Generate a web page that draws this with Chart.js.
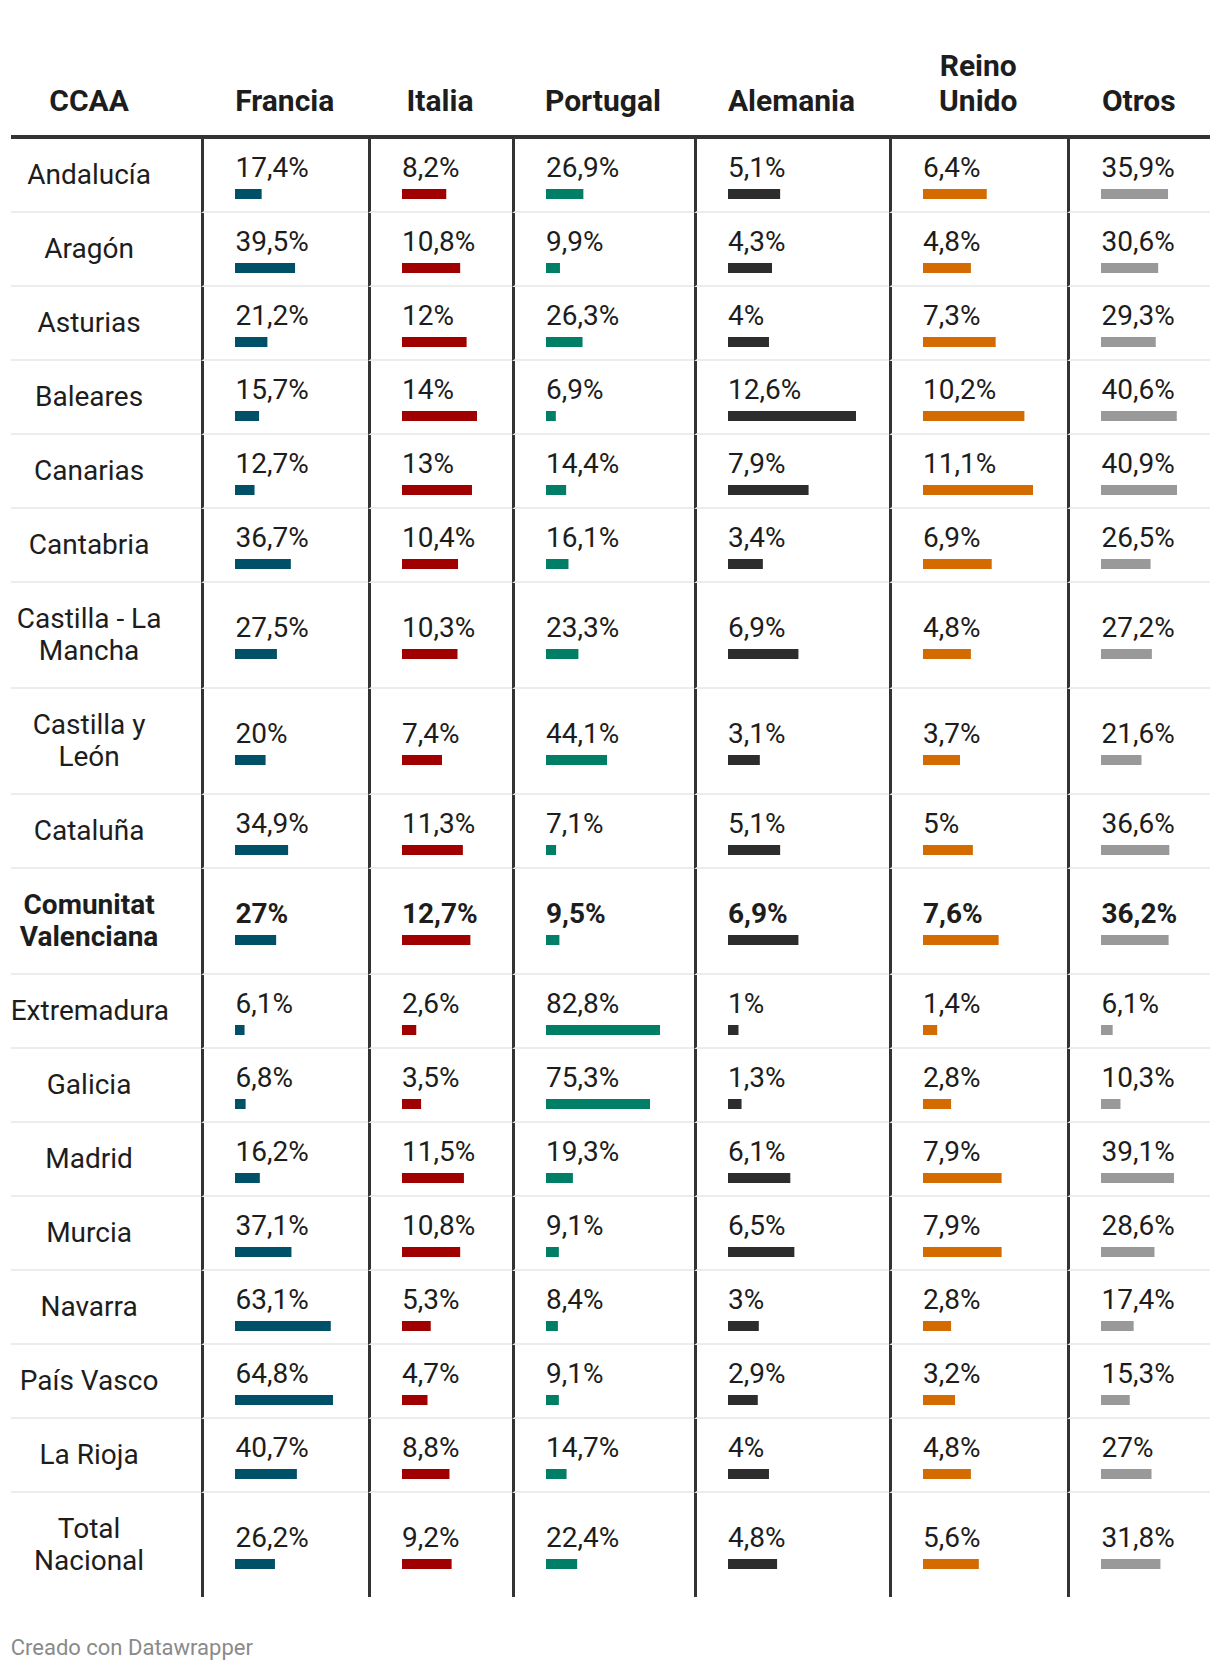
<!DOCTYPE html>
<html lang="es">
<head>
<meta charset="utf-8">
<title>Visitantes extranjeros por CCAA</title>
<script src="https://cdn.jsdelivr.net/npm/chart.js@4"></script>
<style>
  body { margin: 0; background: #fff; font-family: Roboto, 'Noto Sans', sans-serif; color: #1d1d1d; }
  #envoltorio { position: absolute; left: 10.7px; top: 48px; width: 1199.3px; }
  table { table-layout: fixed; border-collapse: separate; border-spacing: 0; width: 1199.3px; }
  th { font-weight: 700; font-size: 30px; line-height: 35px; text-align: center; vertical-align: bottom;
       padding: 0 0 17px 0; border-bottom: 4px solid #333; white-space: pre-line; }
  th:first-child { padding-right: 34px; }
  td { border-bottom: 2px solid #ececec; padding: 0; }
  tbody tr:last-child td { border-bottom: none; }
  td.etiqueta { font-size: 28px; line-height: 32px; text-align: center; padding: 20px 34px 20px 0; white-space: pre-line; }
  td.valor { border-left: 3px solid #333; padding-left: 31px; vertical-align: middle; }
  td.valor .num { font-size: 28px; line-height: 32px; white-space: nowrap; }
  td.valor canvas { display: block; margin-top: 5px; }
  tr.destacado td { font-weight: 700; }
  #pie { position: absolute; left: 10.7px; top: 1636px; font-size: 22px; line-height: 24px; color: #8a8a8a; }
</style>
</head>
<body>
<div id="envoltorio">
  <table id="tabla">
    <colgroup>
      <col style="width:190.8px"><col style="width:166.5px"><col style="width:144px"><col style="width:182px">
      <col style="width:195px"><col style="width:178.5px"><col style="width:142.5px">
    </colgroup>
    <thead><tr id="cabecera"></tr></thead>
    <tbody id="cuerpo"></tbody>
  </table>
</div>
<div id="pie">Creado con Datawrapper</div>

<script>
const titulos = ['CCAA', 'Francia', 'Italia', 'Portugal', 'Alemania', 'Reino\nUnido', 'Otros'];

const comunidades = [
    'Andalucía', 'Aragón', 'Asturias', 'Baleares', 'Canarias', 'Cantabria',
    'Castilla - La\nMancha', 'Castilla y\nLeón', 'Cataluña', 'Comunitat\nValenciana',
    'Extremadura', 'Galicia', 'Madrid', 'Murcia', 'Navarra', 'País Vasco', 'La Rioja', 'Total\nNacional'
];

const francia    = [17.4, 39.5, 21.2, 15.7, 12.7, 36.7, 27.5, 20, 34.9, 27, 6.1, 6.8, 16.2, 37.1, 63.1, 64.8, 40.7, 26.2];
const italia     = [8.2, 10.8, 12, 14, 13, 10.4, 10.3, 7.4, 11.3, 12.7, 2.6, 3.5, 11.5, 10.8, 5.3, 4.7, 8.8, 9.2];
const portugal   = [26.9, 9.9, 26.3, 6.9, 14.4, 16.1, 23.3, 44.1, 7.1, 9.5, 82.8, 75.3, 19.3, 9.1, 8.4, 9.1, 14.7, 22.4];
const alemania   = [5.1, 4.3, 4, 12.6, 7.9, 3.4, 6.9, 3.1, 5.1, 6.9, 1, 1.3, 6.1, 6.5, 3, 2.9, 4, 4.8];
const reinoUnido = [6.4, 4.8, 7.3, 10.2, 11.1, 6.9, 4.8, 3.7, 5, 7.6, 1.4, 2.8, 7.9, 7.9, 2.8, 3.2, 4.8, 5.6];
const otros      = [35.9, 30.6, 29.3, 40.6, 40.9, 26.5, 27.2, 21.6, 36.6, 36.2, 6.1, 10.3, 39.1, 28.6, 17.4, 15.3, 27, 31.8];

const filaDestacada = 'Comunitat\nValenciana';

const columnas = [
    { datos: francia,    color: '#005068', ancho: 98 },
    { datos: italia,     color: '#a00000', ancho: 75 },
    { datos: portugal,   color: '#007f66', ancho: 114 },
    { datos: alemania,   color: '#2d2d2d', ancho: 128 },
    { datos: reinoUnido, color: '#d36b00', ancho: 110 },
    { datos: otros,      color: '#999999', ancho: 76 }
];

function formatearPorcentaje(valor) {
    return String(valor).replace('.', ',') + '%';
}

function crearBarra(canvas, valor, maximo, color) {
    return new Chart(canvas, {
        type: 'bar',
        data: {
            labels: [''],
            datasets: [{
                data: [valor],
                backgroundColor: color,
                borderWidth: 0,
                barPercentage: 1,
                categoryPercentage: 1
            }]
        },
        options: {
            indexAxis: 'y',
            responsive: false,
            animation: false,
            events: [],
            layout: { padding: 0 },
            plugins: {
                legend: { display: false },
                tooltip: { enabled: false }
            },
            scales: {
                x: { display: false, min: 0, max: maximo },
                y: { display: false }
            }
        }
    });
}

const cabecera = document.getElementById('cabecera');
titulos.forEach(titulo => {
    const th = document.createElement('th');
    th.textContent = titulo;
    cabecera.appendChild(th);
});

const cuerpo = document.getElementById('cuerpo');
comunidades.forEach((comunidad, i) => {
    const fila = document.createElement('tr');
    if (comunidad === filaDestacada) fila.className = 'destacado';

    const celdaEtiqueta = document.createElement('td');
    celdaEtiqueta.className = 'etiqueta';
    celdaEtiqueta.textContent = comunidad;
    fila.appendChild(celdaEtiqueta);

    columnas.forEach(columna => {
        const celda = document.createElement('td');
        celda.className = 'valor';
        const num = document.createElement('div');
        num.className = 'num';
        num.textContent = formatearPorcentaje(columna.datos[i]);
        const canvas = document.createElement('canvas');
        canvas.width = columna.ancho;
        canvas.height = 10;
        canvas.style.width = columna.ancho + 'px';
        canvas.style.height = '10px';
        celda.appendChild(num);
        celda.appendChild(canvas);
        fila.appendChild(celda);
        crearBarra(canvas, columna.datos[i], Math.max(...columna.datos), columna.color);
    });

    cuerpo.appendChild(fila);
});
</script>
</body>
</html>
